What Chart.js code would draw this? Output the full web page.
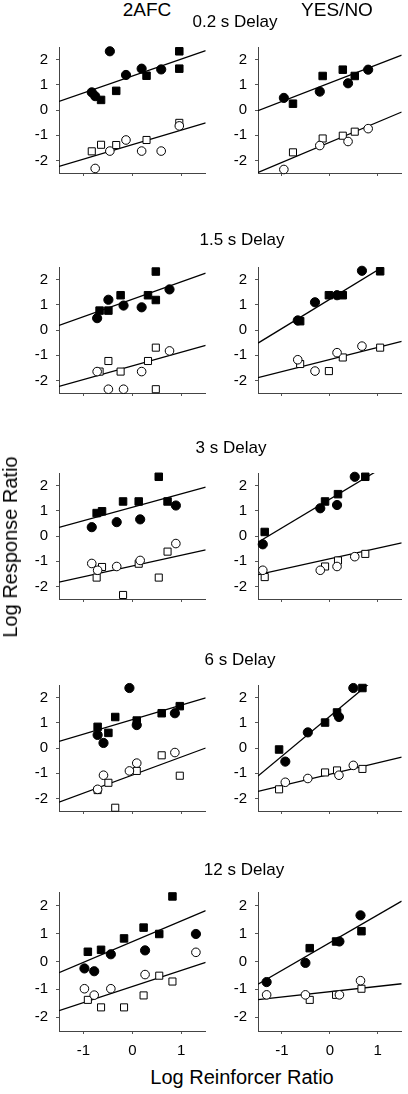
<!DOCTYPE html>
<html>
<head>
<meta charset="utf-8">
<script src="https://cdn.jsdelivr.net/npm/chart.js@4"></script>
<style>
  body { margin: 0; background: #fff; }
  #page { position: relative; width: 408px; height: 1094px; overflow: hidden; font-family: "Liberation Sans", Arial, sans-serif; color: #000; }
  #page canvas { position: absolute; }
  .lbl { position: absolute; white-space: nowrap; line-height: 1; transform: translate(-50%, -50%); }
</style>
</head>
<body>
<div id="page"></div>
<script>
// tick labels and panel names
const xTicks = [-1, 0, 1];
const yTicks = [-2, -1, 0, 1, 2];
const procedures = ['2AFC', 'YES/NO'];
const delays = ['0.2 s Delay', '1.5 s Delay', '3 s Delay', '6 s Delay', '12 s Delay'];
const lineX = [-1.5, 1.5];

// 0.2 s - 2AFC
const afc1FilledCircles = [[-0.83, 0.70], [-0.76, 0.55], [-0.46, 2.33], [-0.13, 1.39], [0.19, 1.64], [0.59, 1.61]];
const afc1FilledSquares = [[-0.64, 0.40], [-0.33, 0.76], [0.29, 1.36], [0.96, 2.33], [0.96, 1.64]];
const afc1OpenCircles = [[-0.76, -2.32], [-0.46, -1.63], [-0.13, -1.19], [0.19, -1.63], [0.59, -1.63], [0.96, -0.63]];
const afc1OpenSquares = [[-0.83, -1.64], [-0.64, -1.38], [-0.33, -1.39], [0.29, -1.19], [0.96, -0.51]];
const afc1LineTop = [0.34, 2.36];
const afc1LineBottom = [-2.24, -0.51];

// 0.2 s - YES/NO
const yn1FilledCircles = [[-0.96, 0.48], [-0.21, 0.73], [0.38, 1.06], [0.80, 1.60]];
const yn1FilledSquares = [[-0.77, 0.25], [-0.15, 1.35], [0.27, 1.60], [0.52, 1.35]];
const yn1OpenCircles = [[-0.96, -2.36], [-0.21, -1.41], [0.38, -1.25], [0.80, -0.74]];
const yn1OpenSquares = [[-0.77, -1.68], [-0.15, -1.13], [0.27, -1.02], [0.52, -0.86]];
const yn1LineTop = [-0.03, 2.18];
const yn1LineBottom = [-2.48, -0.08];

// 1.5 s - 2AFC
const afc2FilledCircles = [[-0.72, 0.47], [-0.49, 1.20], [-0.18, 0.97], [0.19, 0.90], [0.76, 1.61]];
const afc2FilledSquares = [[-0.67, 0.77], [-0.49, 0.77], [-0.24, 1.38], [0.32, 1.38], [0.48, 2.32], [0.48, 1.19]];
const afc2OpenCircles = [[-0.72, -1.65], [-0.49, -2.35], [-0.18, -2.35], [0.19, -1.65], [0.76, -0.83]];
const afc2OpenSquares = [[-0.67, -1.65], [-0.49, -1.23], [-0.24, -1.65], [0.32, -1.23], [0.48, -0.70], [0.48, -2.35]];
const afc2LineTop = [0.18, 2.26];
const afc2LineBottom = [-2.24, -0.61];

// 1.5 s - YES/NO
const yn2FilledCircles = [[-0.67, 0.38], [-0.31, 1.10], [0.15, 1.38], [0.67, 2.35]];
const yn2FilledSquares = [[-0.62, 0.35], [-0.02, 1.38], [0.27, 1.38], [1.05, 2.33]];
const yn2OpenCircles = [[-0.67, -1.18], [-0.31, -1.63], [0.15, -0.90], [0.67, -0.64]];
const yn2OpenSquares = [[-0.62, -1.35], [-0.02, -1.63], [0.27, -1.09], [1.05, -0.70]];
const yn2LineTop = [-0.52, 2.96];
const yn2LineBottom = [-1.89, -0.45];

// 3 s - 2AFC
const afc3FilledCircles = [[-0.83, 0.35], [-0.32, 0.55], [0.16, 0.66], [0.89, 1.21]];
const afc3FilledSquares = [[-0.73, 0.91], [-0.62, 0.98], [-0.19, 1.37], [0.13, 1.37], [0.54, 2.35], [0.72, 1.37]];
const afc3OpenCircles = [[-0.83, -1.09], [-0.71, -1.36], [-0.32, -1.21], [0.16, -0.97], [0.89, -0.30]];
const afc3OpenSquares = [[-0.73, -1.65], [-0.62, -1.23], [-0.19, -2.34], [0.13, -1.10], [0.54, -1.65], [0.72, -0.62]];
const afc3LineTop = [0.34, 1.94];
const afc3LineBottom = [-1.83, -0.55];

// 3 s - YES/NO
const yn3FilledCircles = [[-1.40, -0.33], [-0.20, 1.10], [0.15, 1.23], [0.52, 2.35]];
const yn3FilledSquares = [[-1.36, 0.16], [-0.10, 1.37], [0.17, 1.66], [0.74, 2.35]];
const yn3OpenCircles = [[-1.40, -1.36], [-0.20, -1.36], [0.15, -1.21], [0.52, -0.82]];
const yn3OpenSquares = [[-1.36, -1.63], [-0.10, -1.21], [0.17, -0.97], [0.74, -0.71]];
const yn3LineTop = [-0.25, 3.17];
const yn3LineBottom = [-1.53, -0.27];

// 6 s - 2AFC
const afc4FilledCircles = [[-0.71, 0.52], [-0.59, 0.20], [-0.06, 2.38], [0.09, 0.91], [0.87, 1.38]];
const afc4FilledSquares = [[-0.71, 0.84], [-0.49, 0.60], [-0.35, 1.23], [0.09, 1.09], [0.60, 1.38], [0.97, 1.66]];
const afc4OpenCircles = [[-0.71, -1.64], [-0.59, -1.08], [-0.06, -0.91], [0.09, -0.60], [0.87, -0.18]];
const afc4OpenSquares = [[-0.71, -1.67], [-0.49, -1.38], [-0.35, -2.37], [0.09, -0.91], [0.60, -0.29], [0.97, -1.10]];
const afc4LineTop = [0.26, 1.99];
const afc4LineBottom = [-2.15, 0.0];

// 6 s - YES/NO
const yn4FilledCircles = [[-0.93, -0.54], [-0.46, 0.62], [0.19, 1.23], [0.49, 2.38]];
const yn4FilledSquares = [[-1.06, -0.06], [-0.10, 1.01], [0.15, 1.41], [0.68, 2.38]];
const yn4OpenCircles = [[-0.93, -1.36], [-0.46, -1.21], [0.19, -1.08], [0.49, -0.69]];
const yn4OpenSquares = [[-1.06, -1.64], [-0.10, -0.97], [0.15, -0.89], [0.68, -0.83]];
const yn4LineTop = [-1.11, 3.63];
const yn4LineBottom = [-1.72, -0.36];

// 12 s - 2AFC
const afc5FilledCircles = [[-0.98, -0.25], [-0.78, -0.35], [-0.44, 0.26], [0.26, 0.40], [1.30, 0.99]];
const afc5FilledSquares = [[-0.91, 0.35], [-0.64, 0.42], [-0.17, 0.83], [0.23, 1.22], [0.55, 0.99], [0.82, 2.34]];
const afc5OpenCircles = [[-0.98, -0.98], [-0.78, -1.21], [-0.44, -0.98], [0.26, -0.47], [1.30, 0.33]];
const afc5OpenSquares = [[-0.91, -1.38], [-0.64, -1.65], [-0.17, -1.65], [0.23, -1.22], [0.55, -0.51], [0.82, -0.72]];
const afc5LineTop = [-0.40, 1.83];
const afc5LineBottom = [-1.77, -0.03];

// 12 s - YES/NO
const yn5FilledCircles = [[-1.32, -0.74], [-0.51, -0.05], [0.20, 0.72], [0.64, 1.66]];
const yn5FilledSquares = [[-0.42, 0.48], [0.13, 0.72], [0.66, 1.09]];
const yn5OpenCircles = [[-1.32, -1.20], [-0.51, -1.20], [0.20, -1.20], [0.64, -0.69]];
const yn5OpenSquares = [[-0.42, -1.38], [0.13, -1.20], [0.66, -0.98]];
const yn5LineTop = [-0.82, 2.17];
const yn5LineBottom = [-1.37, -0.80];

const panels = [
  [afc1FilledCircles, afc1FilledSquares, afc1OpenCircles, afc1OpenSquares, afc1LineTop, afc1LineBottom],
  [yn1FilledCircles, yn1FilledSquares, yn1OpenCircles, yn1OpenSquares, yn1LineTop, yn1LineBottom],
  [afc2FilledCircles, afc2FilledSquares, afc2OpenCircles, afc2OpenSquares, afc2LineTop, afc2LineBottom],
  [yn2FilledCircles, yn2FilledSquares, yn2OpenCircles, yn2OpenSquares, yn2LineTop, yn2LineBottom],
  [afc3FilledCircles, afc3FilledSquares, afc3OpenCircles, afc3OpenSquares, afc3LineTop, afc3LineBottom],
  [yn3FilledCircles, yn3FilledSquares, yn3OpenCircles, yn3OpenSquares, yn3LineTop, yn3LineBottom],
  [afc4FilledCircles, afc4FilledSquares, afc4OpenCircles, afc4OpenSquares, afc4LineTop, afc4LineBottom],
  [yn4FilledCircles, yn4FilledSquares, yn4OpenCircles, yn4OpenSquares, yn4LineTop, yn4LineBottom],
  [afc5FilledCircles, afc5FilledSquares, afc5OpenCircles, afc5OpenSquares, afc5LineTop, afc5LineBottom],
  [yn5FilledCircles, yn5FilledSquares, yn5OpenCircles, yn5OpenSquares, yn5LineTop, yn5LineBottom]
];

// layout (page pixels)
const rowTops = [40, 260, 466, 678, 885];
const areaHeight = 146;
const padTop = 10;
const cols = [
  { left: 0, width: 212, axisWidth: 59, padRight: 5 },
  { left: 200, width: 208, axisWidth: 58, padRight: 1 }
];

const page = document.getElementById('page');
const FONT = '"Liberation Sans", Arial, sans-serif';

function addLabel(text, x, y, size, rotate) {
  const d = document.createElement('div');
  d.className = 'lbl';
  d.textContent = text;
  d.style.left = x + 'px';
  d.style.top = y + 'px';
  d.style.fontSize = size + 'px';
  if (rotate) d.style.transform = 'translate(-50%, -50%) rotate(-90deg)';
  page.appendChild(d);
}

function toPoints(arr) {
  return arr.map(p => ({ x: p[0], y: p[1] }));
}

function markerSet(arr, style, radius, fill) {
  return {
    data: toPoints(arr),
    pointStyle: style,
    pointRadius: radius,
    pointBackgroundColor: fill,
    pointBorderColor: '#000',
    pointBorderWidth: 1,
    showLine: false,
    clip: false,
    order: 1
  };
}

function lineSet(ends) {
  return {
    data: [{ x: lineX[0], y: ends[0] }, { x: lineX[1], y: ends[1] }],
    showLine: true,
    borderColor: '#000',
    borderWidth: 1.3,
    pointRadius: 0,
    order: 2
  };
}

function makePanel(index) {
  const row = Math.floor(index / 2);
  const col = cols[index % 2];
  const bottom = row === rowTops.length - 1;
  const xHeight = bottom ? 30 : 4;
  const h = padTop + areaHeight + xHeight;

  const canvas = document.createElement('canvas');
  canvas.width = col.width;
  canvas.height = h;
  canvas.style.left = col.left + 'px';
  canvas.style.top = (rowTops[row] - padTop) + 'px';
  canvas.style.width = col.width + 'px';
  canvas.style.height = h + 'px';
  page.appendChild(canvas);

  const p = panels[index];
  new Chart(canvas, {
    type: 'scatter',
    data: {
      datasets: [
        markerSet(p[0], 'circle', 4.6, '#000'),
        markerSet(p[1], 'rect', 5.3, '#000'),
        markerSet(p[2], 'circle', 4.3, '#fff'),
        markerSet(p[3], 'rect', 5.0, '#fff'),
        lineSet(p[4]),
        lineSet(p[5])
      ]
    },
    options: {
      responsive: false,
      devicePixelRatio: 1,
      animation: false,
      events: [],
      layout: { padding: { top: padTop, right: col.padRight, left: 0, bottom: 0 } },
      plugins: { legend: { display: false }, tooltip: { enabled: false } },
      scales: {
        x: {
          type: 'linear',
          min: -1.5,
          max: 1.5,
          afterBuildTicks: s => { s.ticks = xTicks.map(v => ({ value: v })); },
          afterFit: s => { s.height = xHeight; },
          ticks: {
            display: bottom,
            autoSkip: false,
            maxRotation: 0,
            padding: 8,
            color: '#000',
            font: { family: FONT, size: 15 }
          },
          grid: { drawOnChartArea: false, tickLength: 3, color: '#555' },
          border: { color: '#444', width: 1 }
        },
        y: {
          type: 'linear',
          min: -2.5,
          max: 2.5,
          afterBuildTicks: s => { s.ticks = yTicks.map(v => ({ value: v })); },
          afterFit: s => { s.width = col.axisWidth; },
          ticks: {
            autoSkip: false,
            padding: 8,
            color: '#000',
            font: { family: FONT, size: 15 }
          },
          grid: { drawOnChartArea: false, tickLength: 3, color: '#555' },
          border: { color: '#444', width: 1 }
        }
      }
    }
  });
}

for (let i = 0; i < panels.length; i++) {
  makePanel(i);
}

// headers and axis titles
addLabel(procedures[0], 147, 9, 19);
addLabel(procedures[1], 337, 9, 19);
const delayPos = [[235, 21], [242, 239], [231, 447], [240, 659], [244, 869]];
delays.forEach((t, i) => addLabel(t, delayPos[i][0], delayPos[i][1], 17));
addLabel('Log Reinforcer Ratio', 242, 1077, 20);
addLabel('Log Response Ratio', 10, 547, 20, true);
</script>
</body>
</html>
